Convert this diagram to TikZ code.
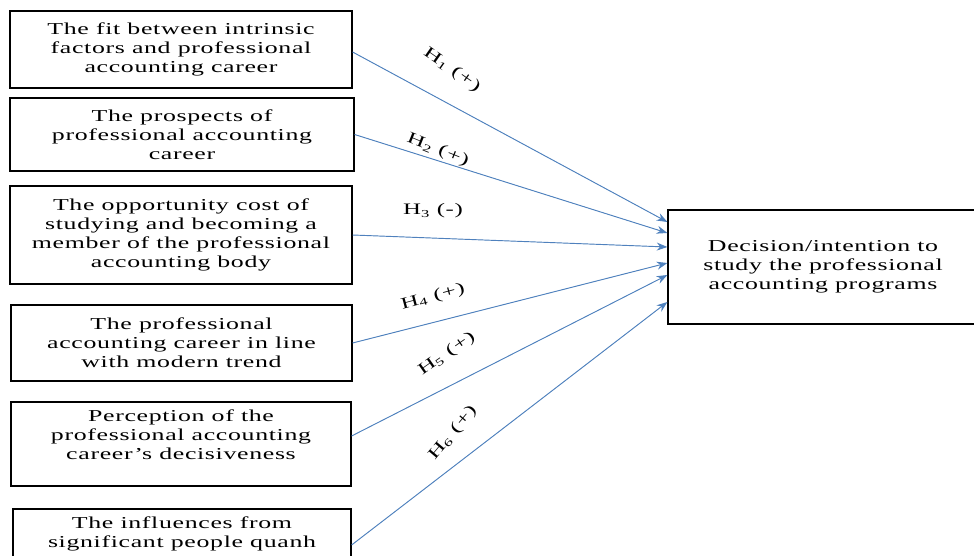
\documentclass[tikz,border=0pt]{standalone}
\usepackage{fontspec}
\setmainfont{Liberation Serif}[FakeStretch=1.55, LetterSpace=4]
\usetikzlibrary{arrows.meta, positioning, calc}

\definecolor{linkblue}{RGB}{79,129,189}

\begin{document}
\begin{tikzpicture}[
  x=0.75pt, y=-0.75pt,
  factor/.style={draw, line width=0.9pt, align=center, inner sep=0pt,
    font=\fontsize{12.5}{14.3}\selectfont},
  arrow/.style={-{Stealth[length=8pt, width=6pt]}, draw=linkblue, fill=linkblue, line width=0.7pt},
  hyp/.style={font=\fontsize{12}{13}\selectfont, inner sep=1pt}
]
\useasboundingbox (0,0) rectangle (974,556);
\clip (0,0) rectangle (974,556);

% factors
\node[factor, minimum width=342*0.75pt, minimum height=77*0.75pt] (f1) at (181,49.5)
  {The fit between intrinsic\\ factors and professional\\ accounting career};
\node[factor, minimum width=344*0.75pt, minimum height=73*0.75pt] (f2) at (182,134.5)
  {The prospects of\\ professional accounting\\ career};
\node[factor, minimum width=342*0.75pt, minimum height=98*0.75pt] (f3) at (181,235)
  {The opportunity cost of\\ studying and becoming a\\ member of the professional\\ accounting body};
\node[factor, minimum width=341*0.75pt, minimum height=76*0.75pt] (f4) at (181.5,343)
  {The professional\\ accounting career in line\\ with modern trend};
\node[factor, minimum width=340*0.75pt, minimum height=84*0.75pt] (f5) at (181,444)
  {Perception of the\\ professional accounting\\ career's decisiveness\\[0pt]};
\node[factor, minimum width=338*0.75pt, minimum height=50*0.75pt] (f6) at (182,534)
  {The influences from\\ significant people quanh};

% outcome
\node[factor, minimum width=310*0.75pt, minimum height=114*0.75pt] (dec) at (823,267)
  {Decision/intention to\\ study the professional\\ accounting programs};

% hypotheses
\draw[arrow] (f1.east |- 0,52) -- ($(dec.west)+(0,-45)$);
\draw[arrow] (f2.east) -- ($(dec.west)+(0,-34)$);
\draw[arrow] (f3.east) -- ($(dec.west)+(0,-20)$);
\draw[arrow] (f4.east) -- ($(dec.west)+(0,-4)$);
\draw[arrow] (f5.east |- 0,436) -- ($(dec.west)+(0,8)$);
\draw[arrow] (f6.east |- 0,545) -- ($(dec.west)+(0,35)$);

\node[hyp, rotate=-35] (h1) at (452,70) {H\textsubscript{1} (+)};
\node[hyp, rotate=-22] (h2) at (438,150) {H\textsubscript{2} (+)};
\node[hyp] (h3) at (433,211) {H\textsubscript{3} (-)};
\node[hyp, rotate=15] (h4) at (433,297) {H\textsubscript{4} (+)};
\node[hyp, rotate=35] (h5) at (447,354) {H\textsubscript{5} (+)};
\node[hyp, rotate=50] (h6) at (453,433) {H\textsubscript{6} (+)};
\end{tikzpicture}
\end{document}
